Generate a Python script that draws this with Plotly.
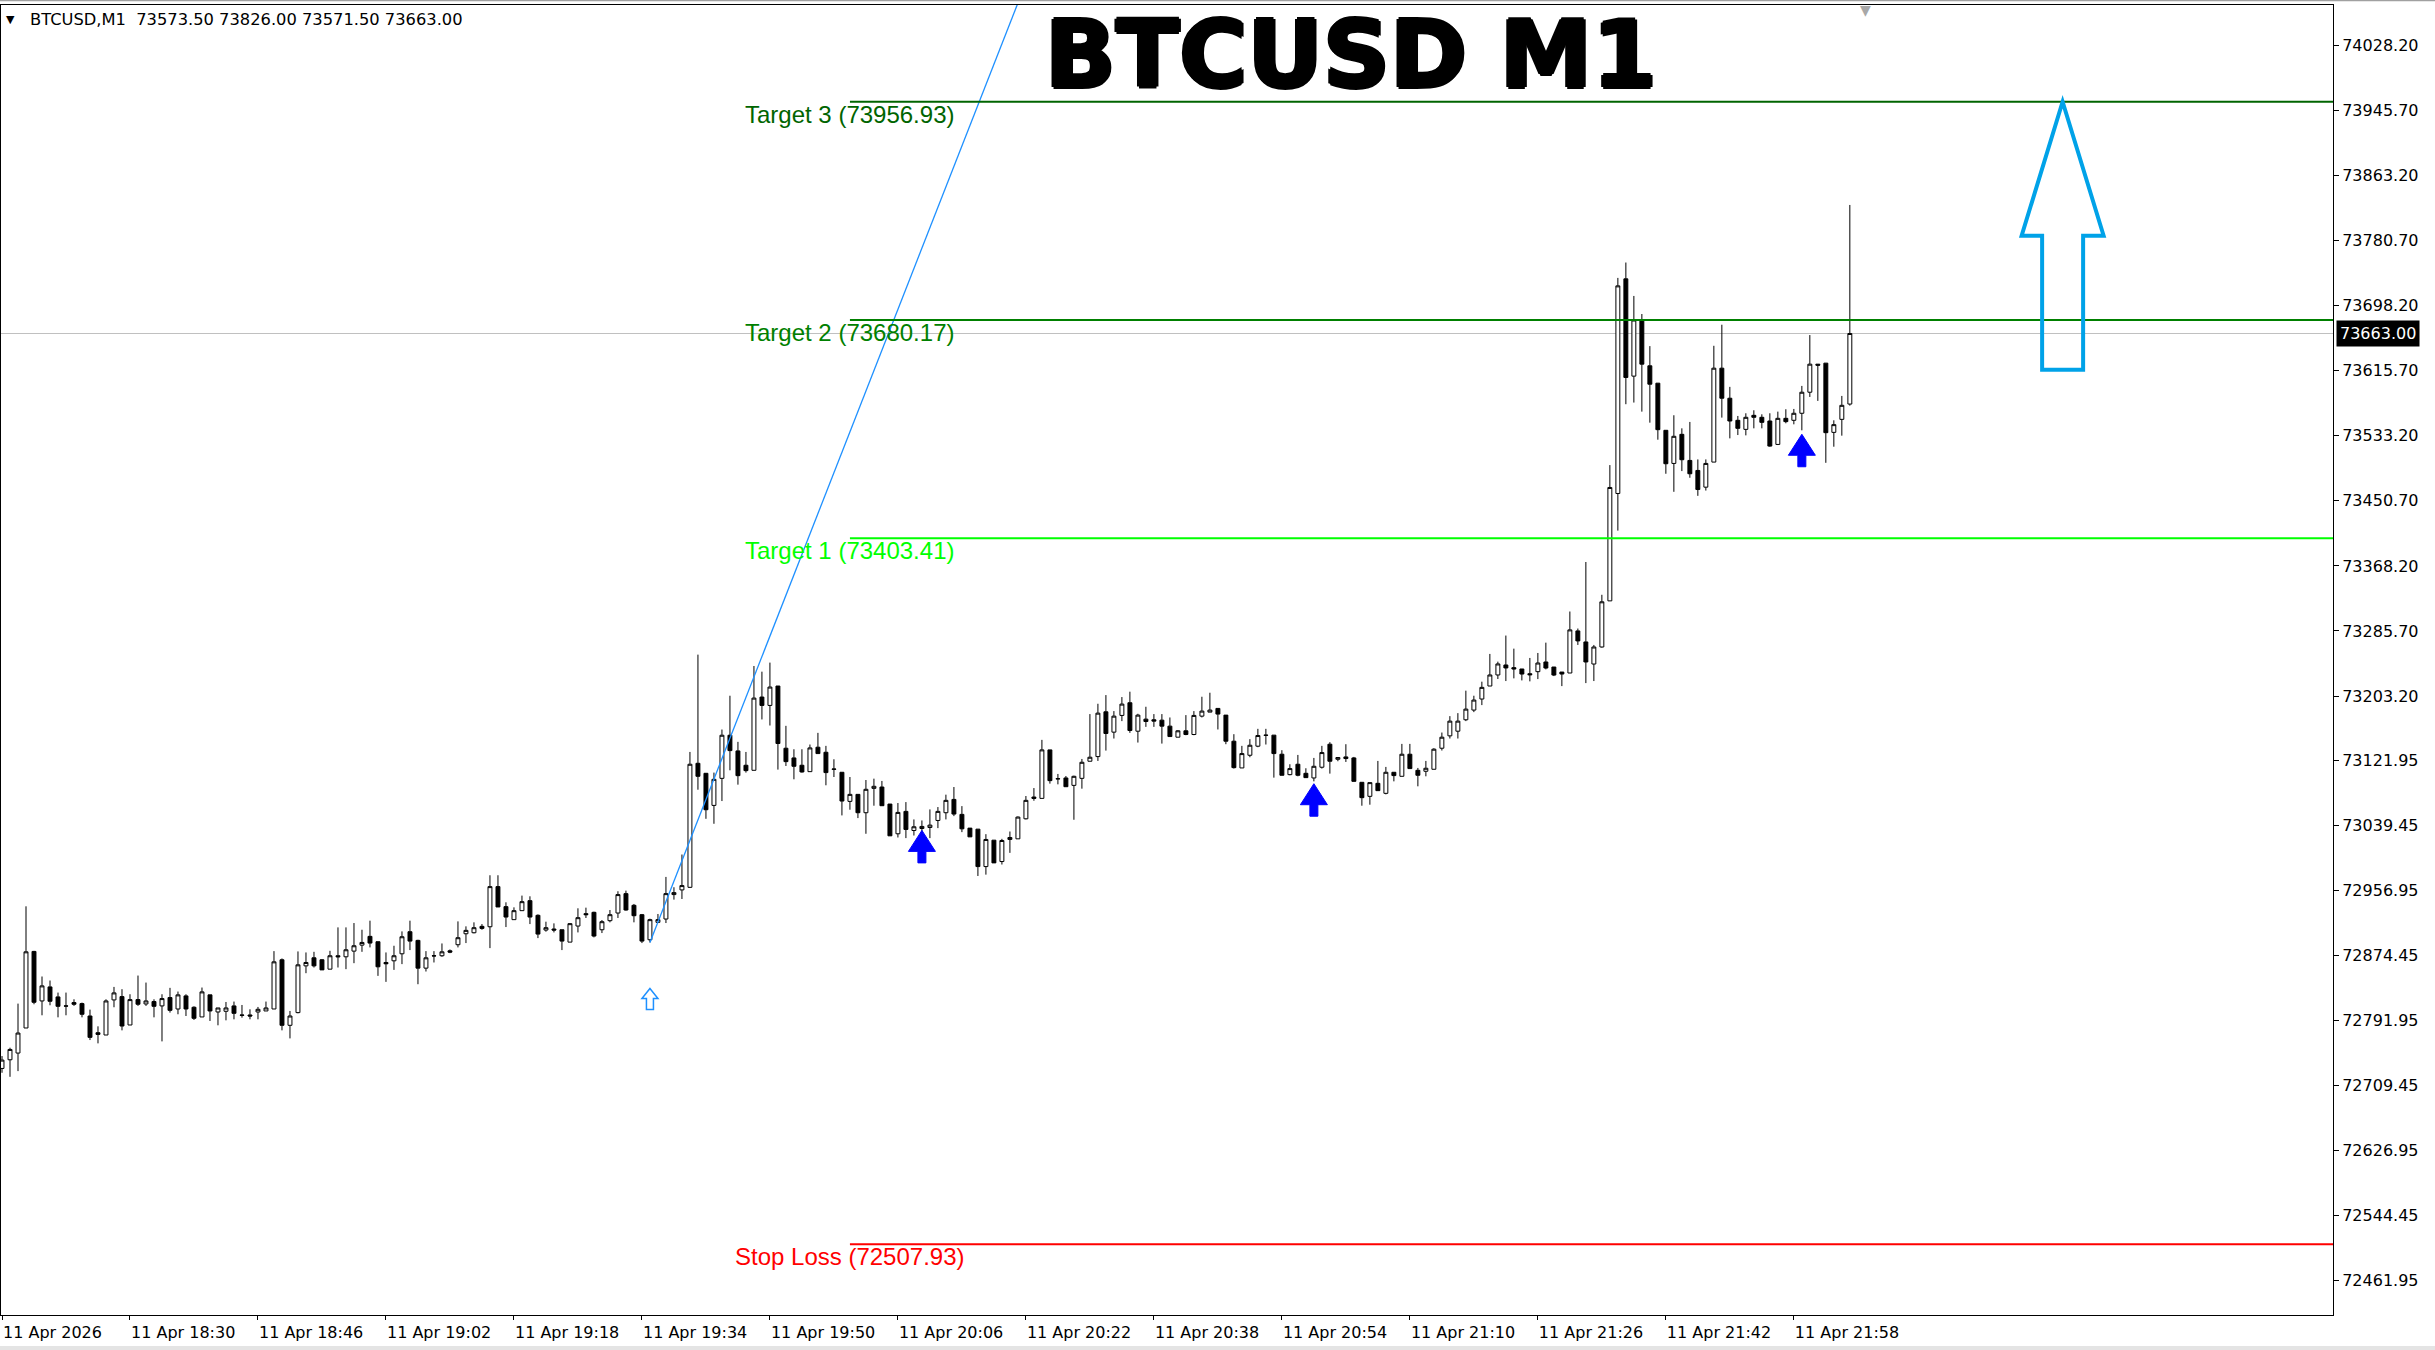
import pandas as pd
import plotly.graph_objects as go

# ---- candle data (BTCUSD M1, 11 Apr 2026 18:14 .. 22:05) ----
times = pd.date_range("2026-04-11 18:14", periods=232, freq="min")

opens = [72730.9, 72741.9, 72750.4, 72782.2, 72879.3, 72816.5, 72834.3, 72821.6, 72810.2, 72814.4,
         72813.1, 72797.4, 72776.2, 72773.3, 72817.8, 72822.0, 72786.0, 72818.2, 72812.7, 72815.7,
         72810.2, 72820.8, 72806.3, 72822.9, 72808.5, 72796.2, 72824.2, 72802.5, 72803.4, 72810.2,
         72798.7, 72798.7, 72802.5, 72803.8, 72806.3, 72868.7, 72785.6, 72801.7, 72861.0, 72871.2,
         72868.7, 72856.8, 72873.8, 72872.5, 72879.7, 72887.3, 72898.4, 72891.6, 72865.3, 72867.4,
         72876.3, 72904.3, 72893.3, 72858.1, 72873.8, 72873.8, 72880.1, 72887.8, 72901.7, 72903.0,
         72911.1, 72910.6, 72961.5, 72936.1, 72919.6, 72931.0, 72943.7, 72925.1, 72906.4, 72907.7,
         72906.8, 72891.1, 72911.5, 72927.2, 72928.9, 72906.8, 72918.3, 72928.0, 72952.6, 72937.8,
         72925.9, 72894.1, 72916.2, 72920.4, 72951.4, 72957.3, 72960.6, 73117.9, 73105.2, 73064.5,
         73098.8, 73153.5, 73133.6, 73115.4, 73109.0, 73201.9, 73191.3, 73215.9, 73137.0, 73124.7,
         73115.4, 73107.3, 73138.3, 73131.9, 73110.7, 73106.5, 73069.6, 73078.5, 73055.2, 73086.1,
         73087.8, 73066.2, 73028.5, 73056.9, 73032.7, 73035.2, 73036.5, 73045.4, 73055.2, 73072.1,
         73053.1, 73035.7, 73034.4, 72986.9, 73020.4, 72993.3, 73021.3, 73022.1, 73047.5, 73075.1,
         73073.4, 73134.9, 73098.4, 73099.3, 73089.9, 73098.8, 73120.5, 73126.4, 73183.2, 73157.4,
         73178.6, 73194.7, 73158.6, 73173.9, 73173.1, 73172.6, 73165.0, 73151.0, 73159.1, 73154.4,
         73177.7, 73182.8, 73187.5, 73179.0, 73145.9, 73112.0, 73128.1, 73139.6, 73153.6, 73153.6,
         73129.4, 73103.5, 73116.7, 73105.2, 73099.3, 73112.9, 73142.1, 73123.0, 73126.0, 73124.7,
         73093.8, 73076.0, 73092.5, 73079.8, 73106.5, 73101.4, 73129.4, 73109.0, 73107.8, 73110.3,
         73137.0, 73152.7, 73158.6, 73173.1, 73185.4, 73199.4, 73215.9, 73229.9, 73242.6, 73239.2,
         73237.5, 73231.5, 73234.1, 73246.4, 73240.0, 73233.6, 73232.4, 73285.8, 73271.8, 73243.8,
         73265.4, 73323.9, 73460.1, 73732.3, 73608.9, 73680.1, 73622.0, 73600.0, 73540.2, 73498.2,
         73535.1, 73502.0, 73489.3, 73468.1, 73499.9, 73619.0, 73580.9, 73552.9, 73541.4, 73559.2,
         73556.7, 73552.0, 73522.3, 73555.4, 73552.9, 73561.8, 73588.5, 73624.1, 73625.4, 73537.6,
         73554.1, 73573.5]

highs = [72746.6, 72757.2, 72813.1, 72936.5, 72880.0, 72847.5, 72842.4, 72827.1, 72827.1, 72818.6,
         72814.4, 72805.5, 72784.3, 72818.6, 72834.3, 72831.4, 72825.0, 72848.7, 72839.8, 72818.6,
         72825.0, 72833.1, 72828.4, 72825.0, 72809.7, 72833.5, 72824.2, 72807.6, 72815.2, 72815.7,
         72811.4, 72805.9, 72808.9, 72815.7, 72879.7, 72870.4, 72803.8, 72879.3, 72878.0, 72878.8,
         72869.5, 72880.1, 72909.8, 72909.8, 72915.3, 72906.8, 72918.3, 72891.6, 72878.0, 72886.5,
         72904.7, 72918.3, 72894.1, 72879.7, 72879.7, 72889.4, 72881.8, 72917.4, 72911.1, 72916.2,
         72914.0, 72975.9, 72975.9, 72941.6, 72935.2, 72950.1, 72949.2, 72926.3, 72917.0, 72914.9,
         72906.8, 72915.3, 72934.0, 72934.8, 72929.7, 72919.1, 72931.8, 72955.6, 72956.4, 72939.5,
         72926.8, 72920.8, 72926.8, 72973.8, 72960.7, 73002.2, 73132.3, 73255.7, 73105.6, 73106.1,
         73160.7, 73203.6, 73145.1, 73132.3, 73241.3, 73234.1, 73245.6, 73215.9, 73165.4, 73135.7,
         73135.7, 73141.7, 73156.5, 73140.0, 73123.0, 73106.5, 73100.5, 73078.5, 73096.7, 73098.4,
         73095.5, 73066.2, 73067.5, 73068.7, 73046.7, 73045.4, 73059.4, 73062.4, 73078.1, 73087.8,
         73063.6, 73035.7, 73034.4, 73028.0, 73020.4, 73022.1, 73031.4, 73050.5, 73076.4, 73086.5,
         73147.6, 73134.9, 73104.4, 73101.8, 73102.2, 73123.4, 73180.3, 73193.4, 73204.4, 73184.1,
         73201.9, 73208.7, 73180.7, 73189.6, 73180.3, 73180.3, 73176.0, 73159.9, 73179.0, 73184.1,
         73202.3, 73207.4, 73187.5, 73179.0, 73154.8, 73140.0, 73148.5, 73161.6, 73161.6, 73153.6,
         73134.5, 73116.7, 73128.5, 73111.6, 73124.7, 73140.0, 73144.7, 73125.2, 73142.1, 73126.0,
         73093.8, 73093.4, 73120.9, 73113.3, 73106.5, 73142.5, 73142.5, 73112.0, 73120.9, 73137.0,
         73156.9, 73177.7, 73181.5, 73210.0, 73203.6, 73221.4, 73256.6, 73246.8, 73279.9, 73263.3,
         73237.5, 73251.5, 73257.8, 73270.9, 73240.0, 73233.6, 73310.4, 73288.8, 73373.2, 73268.0,
         73331.6, 73496.1, 73733.5, 73753.0, 73710.6, 73687.7, 73647.0, 73600.0, 73540.2, 73559.3,
         73542.7, 73550.8, 73503.3, 73503.3, 73647.4, 73674.1, 73595.3, 73558.4, 73561.8, 73565.6,
         73560.5, 73561.8, 73563.9, 73566.9, 73567.3, 73596.5, 73661.0, 73624.1, 73625.4, 73552.9,
         73583.8, 73826.0]

lows = [72725.4, 72720.3, 72727.5, 72782.2, 72812.3, 72798.3, 72811.0, 72795.7, 72798.3, 72810.2,
        72795.7, 72766.9, 72762.7, 72773.3, 72808.5, 72779.2, 72786.0, 72810.2, 72810.2, 72795.7,
        72765.2, 72801.7, 72799.6, 72797.4, 72792.4, 72796.2, 72791.1, 72785.6, 72791.9, 72793.2,
        72795.3, 72793.2, 72793.2, 72803.8, 72806.3, 72779.2, 72769.0, 72800.8, 72851.7, 72858.9,
        72855.9, 72856.8, 72858.9, 72856.8, 72864.4, 72878.8, 72884.4, 72848.3, 72840.7, 72855.9,
        72863.2, 72881.0, 72837.7, 72853.8, 72865.3, 72872.5, 72877.1, 72884.4, 72889.9, 72902.2,
        72906.8, 72883.5, 72935.7, 72910.2, 72919.6, 72931.0, 72914.0, 72896.2, 72904.3, 72903.4,
        72881.0, 72891.1, 72903.4, 72921.7, 72897.1, 72902.6, 72916.2, 72921.7, 72931.0, 72916.2,
        72889.9, 72890.7, 72915.3, 72915.3, 72945.0, 72945.8, 72959.8, 73084.4, 73047.5, 73041.2,
        73070.0, 73109.0, 73090.8, 73106.1, 73109.0, 73173.5, 73165.8, 73109.9, 73114.5, 73097.6,
        73106.1, 73107.3, 73130.2, 73090.0, 73100.5, 73051.8, 73059.0, 73048.4, 73028.5, 73064.1,
        73064.1, 73025.9, 73023.8, 73023.0, 73026.3, 73030.6, 73023.0, 73035.7, 73046.7, 73050.9,
        73030.6, 73024.6, 72975.0, 72976.7, 72991.6, 72989.5, 73004.3, 73022.1, 73046.7, 73070.4,
        73073.4, 73092.1, 73091.2, 73088.2, 73046.3, 73085.7, 73120.5, 73120.9, 73134.0, 73149.3,
        73171.4, 73156.5, 73144.2, 73164.1, 73164.1, 73142.9, 73151.4, 73151.0, 73153.5, 73153.5,
        73176.0, 73182.8, 73160.8, 73142.1, 73111.2, 73112.0, 73125.6, 73138.3, 73141.7, 73099.7,
        73102.7, 73102.7, 73101.4, 73099.7, 73095.0, 73111.2, 73104.8, 73120.5, 73119.6, 73095.0,
        73064.1, 73065.4, 73083.2, 73078.5, 73095.0, 73101.4, 73111.2, 73088.7, 73101.4, 73110.3,
        73134.1, 73149.3, 73149.3, 73171.4, 73182.8, 73191.7, 73215.9, 73224.8, 73222.2, 73225.6,
        73223.0, 73221.8, 73224.7, 73237.0, 73228.5, 73215.8, 73232.4, 73268.0, 73219.6, 73222.2,
        73264.6, 73323.9, 73413.0, 73573.3, 73575.4, 73563.9, 73549.9, 73528.3, 73485.1, 73462.2,
        73488.5, 73480.0, 73457.1, 73463.8, 73499.9, 73556.3, 73530.0, 73534.2, 73533.8, 73542.7,
        73542.7, 73519.4, 73521.5, 73549.1, 73547.8, 73540.2, 73582.5, 73577.5, 73499.0, 73519.4,
        73533.4, 73571.5]

closes = [72741.5, 72755.0, 72775.8, 72878.8, 72814.8, 72835.6, 72816.1, 72809.7, 72810.0, 72812.3,
          72799.6, 72770.3, 72774.1, 72816.5, 72826.7, 72784.7, 72818.2, 72812.3, 72816.5, 72809.7,
          72819.5, 72804.6, 72824.2, 72806.3, 72794.5, 72828.0, 72803.8, 72807.6, 72807.6, 72800.8,
          72798.3, 72797.4, 72805.9, 72807.6, 72866.1, 72785.6, 72797.4, 72862.3, 72865.3, 72861.0,
          72855.9, 72873.8, 72872.5, 72881.4, 72886.5, 72890.7, 72889.9, 72859.8, 72863.6, 72873.8,
          72897.9, 72892.4, 72858.1, 72871.2, 72873.6, 72878.8, 72878.4, 72896.7, 72906.0, 72909.4,
          72908.5, 72961.5, 72935.7, 72922.9, 72931.0, 72942.4, 72922.9, 72901.3, 72909.4, 72906.4,
          72892.4, 72914.5, 72922.1, 72925.9, 72898.8, 72917.0, 72925.9, 72951.4, 72931.8, 72924.6,
          72892.4, 72919.6, 72919.6, 72952.6, 72953.9, 72962.8, 73116.7, 73101.4, 73059.0, 73097.6,
          73153.5, 73134.0, 73102.2, 73108.6, 73200.6, 73191.3, 73214.6, 73143.0, 73120.0, 73114.1,
          73106.9, 73137.4, 73130.2, 73106.1, 73110.3, 73070.0, 73078.5, 73055.2, 73084.9, 73088.7,
          73064.1, 73025.9, 73055.6, 73034.0, 73037.4, 73037.8, 73039.5, 73056.9, 73070.9, 73053.5,
          73034.8, 73024.6, 72986.9, 73021.3, 72991.6, 73020.0, 73023.8, 73049.7, 73070.9, 73073.4,
          73134.9, 73095.9, 73098.2, 73088.2, 73101.4, 73119.2, 73125.6, 73181.5, 73155.7, 73177.7,
          73193.0, 73159.5, 73179.0, 73170.9, 73171.4, 73165.0, 73151.8, 73159.1, 73154.4, 73178.6,
          73184.1, 73185.4, 73180.3, 73145.9, 73112.4, 73130.2, 73140.8, 73153.1, 73153.4, 73130.2,
          73102.7, 73111.2, 73102.7, 73099.7, 73114.1, 73131.5, 73120.5, 73125.2, 73123.9, 73095.0,
          73074.3, 73093.4, 73083.2, 73106.5, 73102.3, 73129.4, 73111.2, 73102.7, 73111.6, 73135.8,
          73151.0, 73171.4, 73171.4, 73186.6, 73198.1, 73214.2, 73229.9, 73243.9, 73238.8, 73237.5,
          73231.1, 73230.2, 73245.1, 73238.7, 73229.8, 73231.1, 73287.1, 73273.1, 73246.4, 73265.4,
          73322.7, 73467.7, 73723.4, 73607.2, 73680.1, 73624.1, 73598.7, 73541.0, 73497.8, 73532.6,
          73502.9, 73485.1, 73465.1, 73498.2, 73619.0, 73580.9, 73552.0, 73542.7, 73556.7, 73556.7,
          73550.3, 73520.2, 73555.4, 73551.2, 73561.8, 73588.5, 73624.1, 73622.8, 73537.2, 73547.4,
          73571.9, 73663.0]

bar_idx = list(range(len(opens)))

# ---- axes ----
time_tick_idx = [0, 16, 32, 48, 64, 80, 96, 112, 128, 144, 160, 176, 192, 208, 224]
time_tick_text = ["11 Apr 2026", "11 Apr 18:30", "11 Apr 18:46", "11 Apr 19:02", "11 Apr 19:18",
                  "11 Apr 19:34", "11 Apr 19:50", "11 Apr 20:06", "11 Apr 20:22", "11 Apr 20:38",
                  "11 Apr 20:54", "11 Apr 21:10", "11 Apr 21:26", "11 Apr 21:42", "11 Apr 21:58"]
price_ticks = [74028.20, 73945.70, 73863.20, 73780.70, 73698.20, 73615.70, 73533.20, 73450.70,
               73368.20, 73285.70, 73203.20, 73121.95, 73039.45, 72956.95, 72874.45, 72791.95,
               72709.45, 72626.95, 72544.45, 72461.95]

# ---- objects ----
level_names = ["Target 3", "Target 2", "Target 1", "Stop Loss"]
level_prices = [73956.93, 73680.17, 73403.41, 72507.93]
level_colors = ["#006400", "#008000", "#00FF00", "#FF0000"]
level_start = 106

last_price = 73663.00

trend_x = [81, 130]
trend_y = [72890.7, 74159.8]

signal_idx = [115, 164, 225]
signal_tip = [73032.8, 73092.0, 73535.2]

entry_idx = 81
entry_tip = 72832.2

target_arrow_idx = 257.6
target_arrow_tip = 73956.93

# plot frame in pixels (2435x1350 canvas)
L, R, T, B = 1, 2333, 5, 1315
W, H = 2435, 1350


def px_x(px):
    return (px - L) / (R - L)


def px_y(py):
    return (B - py) / (B - T)


fig = go.Figure()

fig.add_trace(go.Candlestick(
    x=bar_idx, open=opens, high=highs, low=lows, close=closes,
    increasing=dict(line=dict(color="black", width=1), fillcolor="white"),
    decreasing=dict(line=dict(color="black", width=1), fillcolor="black"),
    whiskerwidth=0, showlegend=False, hoverinfo="skip", name="BTCUSD"
))

fig.add_trace(go.Scatter(
    x=trend_x, y=trend_y, mode="lines", line=dict(color="#1E90FF", width=1.3),
    showlegend=False, hoverinfo="skip"
))

x_min, x_max = -0.125, 291.4
y_min, y_max = 72418.2, 74079.6

shapes = []
# current price line
shapes.append(dict(type="line", xref="x", yref="y", x0=x_min, x1=x_max, y0=last_price, y1=last_price,
                   line=dict(color="#C0C0C0", width=1), layer="below"))

annotations = []
for name, price, col in zip(level_names, level_prices, level_colors):
    shapes.append(dict(type="line", xref="x", yref="y", x0=level_start, x1=x_max, y0=price, y1=price,
                       line=dict(color=col, width=2)))
    annotations.append(dict(x=level_start, y=price, xref="x", yref="y", text=f"{name} ({price:.2f})",
                            showarrow=False, xanchor="center", yanchor="top", yshift=3,
                            font=dict(family="Liberation Sans, Arial", size=24, color=col)))

# bold blue signal arrows (pixel geometry, anchored at data point)
bold_arrow = "M0,0 L13.5,-21 L4,-21 L4,-32.5 L-4,-32.5 L-4,-21 L-13.5,-21 Z"
for xi, tip in zip(signal_idx, signal_tip):
    shapes.append(dict(type="path", xref="x", yref="y", xsizemode="pixel", ysizemode="pixel",
                       xanchor=xi, yanchor=tip, path=bold_arrow,
                       fillcolor="#0000FF", line=dict(color="#0000FF", width=1)))

# small hollow entry arrow
small_arrow = "M0,0 L8,-10 L3.5,-10 L3.5,-21 L-3.5,-21 L-3.5,-10 L-8,-10 Z"
shapes.append(dict(type="path", xref="x", yref="y", xsizemode="pixel", ysizemode="pixel",
                   xanchor=entry_idx, yanchor=entry_tip, path=small_arrow,
                   fillcolor="rgba(0,0,0,0)", line=dict(color="#1E90FF", width=1.5)))

# big hollow target arrow
big_arrow = "M0,0 L41,-134 L20.5,-134 L20.5,-268 L-20.5,-268 L-20.5,-134 L-41,-134 Z"
shapes.append(dict(type="path", xref="x", yref="y", xsizemode="pixel", ysizemode="pixel",
                   xanchor=target_arrow_idx, yanchor=target_arrow_tip, path=big_arrow,
                   fillcolor="rgba(0,0,0,0)", line=dict(color="#00A2E8", width=4)))

# window decorations
shapes.append(dict(type="rect", xref="paper", yref="paper", x0=px_x(0), x1=px_x(W), y0=px_y(1346), y1=px_y(H),
                   fillcolor="#E4E4E4", line=dict(width=0), layer="below"))
shapes.append(dict(type="line", xref="paper", yref="paper", x0=px_x(0), x1=px_x(W), y0=px_y(0.5), y1=px_y(0.5),
                   line=dict(color="#A0A0A0", width=1.5)))

# current price tag on the price scale
annotations.append(dict(x=1, xref="paper", y=last_price, yref="y", text=f"{last_price:.2f}",
                        showarrow=False, xanchor="left", xshift=3, bgcolor="black", borderpad=3,
                        font=dict(family="DejaVu Sans", size=16, color="white")))

# header
annotations.append(dict(x=px_x(10), y=px_y(20), xref="paper", yref="paper", text="▼", showarrow=False,
                        xanchor="center", yanchor="middle", font=dict(family="DejaVu Sans", size=11, color="black")))
annotations.append(dict(x=px_x(28), y=px_y(20), xref="paper", yref="paper",
                        text="BTCUSD,M1  73573.50 73826.00 73571.50 73663.00", showarrow=False,
                        xanchor="left", yanchor="middle", font=dict(family="DejaVu Sans", size=16.3, color="black")))
# chart shift marker
annotations.append(dict(x=px_x(1865), y=px_y(10), xref="paper", yref="paper", text="▼", showarrow=False,
                        xanchor="center", yanchor="middle", font=dict(family="DejaVu Sans", size=14, color="#A8A8A8")))
# big title
annotations.append(dict(x=px_x(1351), y=px_y(0), xref="paper", yref="paper", text="<b>BTCUSD M1</b>",
                        showarrow=False, xanchor="center", yanchor="top", borderpad=0,
                        font=dict(family="DejaVu Sans", size=93, color="black",
                                  shadow="2px 0 0 #000, -2px 0 0 #000, 0 2px 0 #000, 0 -2px 0 #000")))

fig.update_layout(
    width=W, height=H,
    margin=dict(l=L, r=W - R, t=T, b=H - B),
    paper_bgcolor="white", plot_bgcolor="white",
    shapes=shapes, annotations=annotations,
    showlegend=False, hovermode=False,
    xaxis=dict(range=[x_min, x_max], tickvals=time_tick_idx, ticktext=time_tick_text,
               ticks="outside", ticklen=4, tickcolor="black", ticklabelposition="outside right",
               ticklabelstandoff=3,
               showgrid=False, zeroline=False, showline=True, linecolor="black", mirror=True,
               rangeslider=dict(visible=False),
               tickfont=dict(family="DejaVu Sans", size=16, color="black")),
    yaxis=dict(side="right", range=[y_min, y_max], tickvals=price_ticks,
               ticktext=[f"{v:.2f}" for v in price_ticks],
               ticks="outside", ticklen=5, tickcolor="black",
               showgrid=False, zeroline=False, showline=True, linecolor="black", mirror=True,
               tickfont=dict(family="DejaVu Sans", size=16, color="black")),
)

# page body has a default 8px margin; drop it so the figure sits at the window's corner
fig.write_html("out.html", config={"displayModeBar": False},
               post_script="document.body.style.margin='0';")
